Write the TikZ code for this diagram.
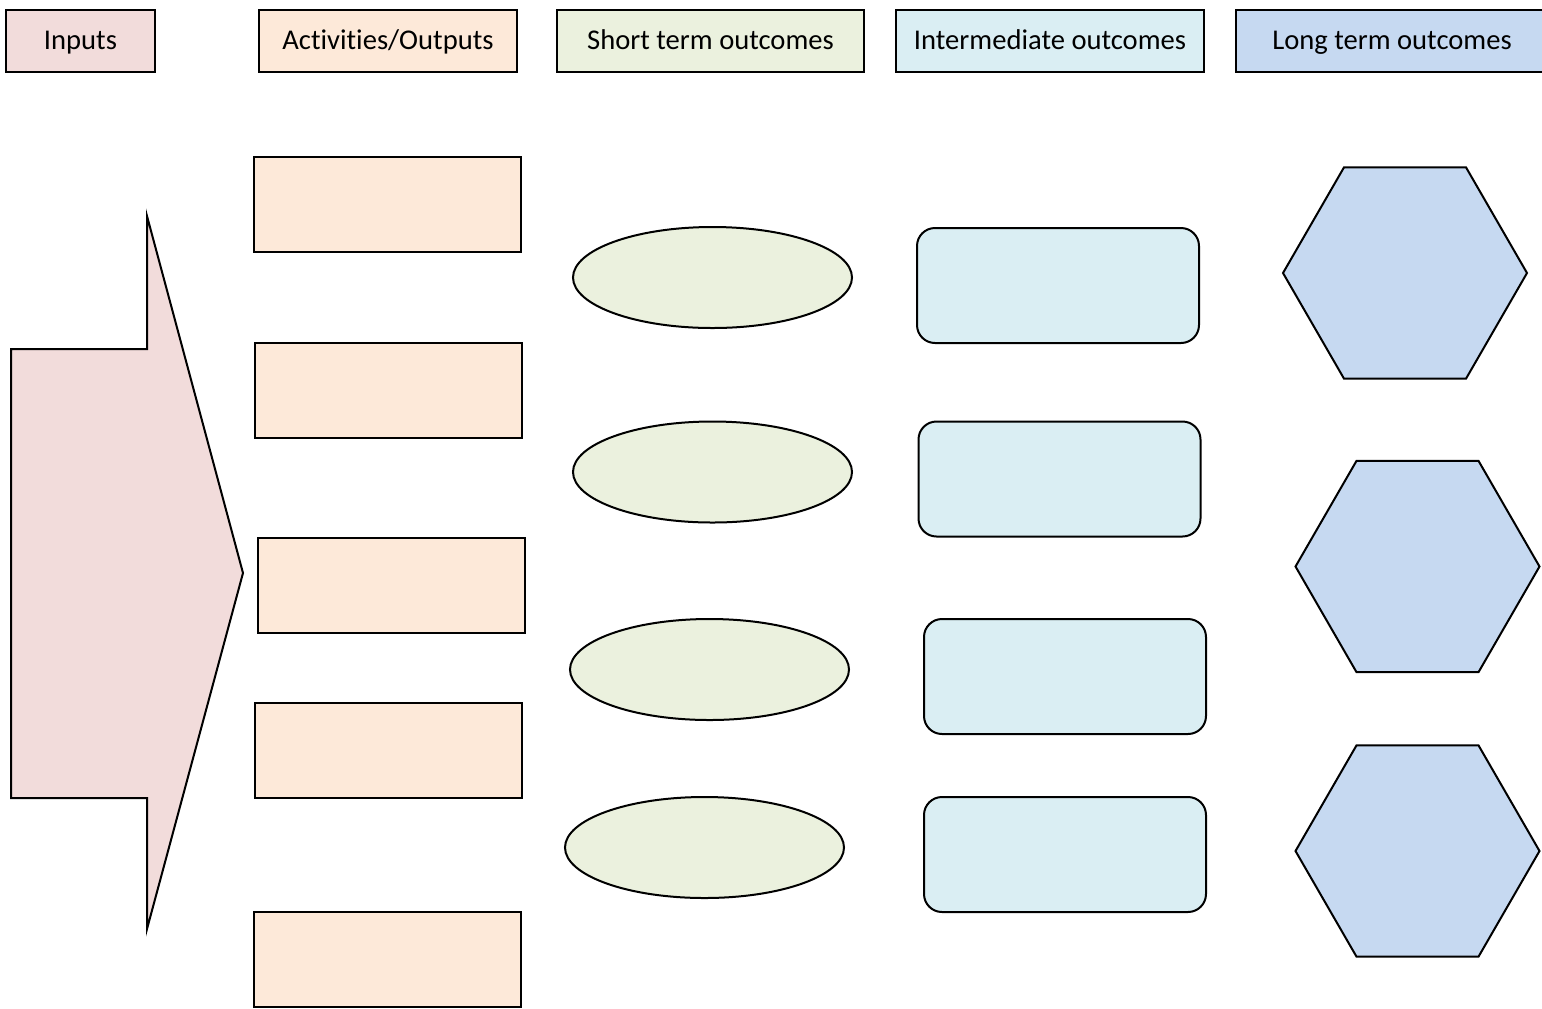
\documentclass[tikz,border=0pt]{standalone}
\usepackage{fontspec}
\setmainfont{Carlito}[Ligatures={NoCommon}]
\usepackage{tikz}
\usetikzlibrary{shapes.geometric}

\definecolor{inpink}{HTML}{F2DCDB}
\definecolor{actpeach}{HTML}{FDE9D9}
\definecolor{shortgreen}{HTML}{EBF1DE}
\definecolor{midblue}{HTML}{DAEEF3}
\definecolor{longblue}{HTML}{C6D9F1}

\begin{document}
\begin{tikzpicture}[x=0.5pt,y=-0.5pt,
                    line width=1pt,
                    hdr/.style={draw,rectangle,inner sep=0pt,minimum height=31pt,
                                text height=11pt,text depth=3pt,
                                font=\fontsize{14.3}{17}\selectfont},
                    actbox/.style={draw,fill=actpeach,rectangle,inner sep=0pt,
                                   minimum width=133.5pt,minimum height=47.5pt},
                    shortell/.style={draw,fill=shortgreen,ellipse,inner sep=0pt,
                                     minimum width=139.5pt,minimum height=50.5pt},
                    midbox/.style={draw,fill=midblue,rectangle,rounded corners=9pt,inner sep=0pt,
                                   minimum width=141pt,minimum height=57.5pt},
                    longhex/.style={draw,fill=longblue,regular polygon,regular polygon sides=6,
                                    inner sep=0pt,minimum size=122pt}]
                              \useasboundingbox (0,0) rectangle (1542,1008);

                              % Headers
                              \node[hdr,fill=inpink,minimum width=74.5pt] (hin) at (80.5,41) {Inputs};
                              \node[hdr,fill=actpeach,minimum width=129pt] (hact) at (388,41) {Activities/Outputs};
                              \node[hdr,fill=shortgreen,minimum width=153.5pt] (hshort) at (710.5,41) {Short term outcomes};
                              \node[hdr,fill=midblue,minimum width=154pt] (hmid) at (1050,41) {Intermediate outcomes};
                              \node[hdr,fill=longblue,minimum width=156pt] (hlong) at (1392,41) {Long term outcomes};

                              % Inputs arrow
                              \draw[fill=inpink,line join=miter] (11,349) -- (147,349) -- (147,216)
                              -- (243,573) -- (147,929) -- (147,798) -- (11,798) -- cycle;

                              % Activities/Outputs
                              \node[actbox] (act1) at (387,204.5) {};
                              \node[actbox] (act2) at (388.5,390) {};
                              \node[actbox] (act3) at (391.5,585) {};
                              \node[actbox] (act4) at (388.5,750) {};
                              \node[actbox] (act5) at (387.5,959) {};

                              % Short term outcomes
                              \node[shortell] (sh1) at (712.5,277.5) {};
                              \node[shortell] (sh2) at (712.5,472) {};
                              \node[shortell] (sh3) at (709.5,669.5) {};
                              \node[shortell] (sh4) at (704.5,847.5) {};

                              % Intermediate outcomes
                              \node[midbox] (mid1) at (1058,285.5) {};
                              \node[midbox] (mid2) at (1059.5,479) {};
                              \node[midbox] (mid3) at (1065,676.5) {};
                              \node[midbox] (mid4) at (1065,854.5) {};

                              % Long term outcomes
                              \node[longhex] (lg1) at (1405,273) {};
                              \node[longhex] (lg2) at (1417.5,566.5) {};
                              \node[longhex] (lg3) at (1417.5,851) {};
                        \end{tikzpicture}
\end{document}
